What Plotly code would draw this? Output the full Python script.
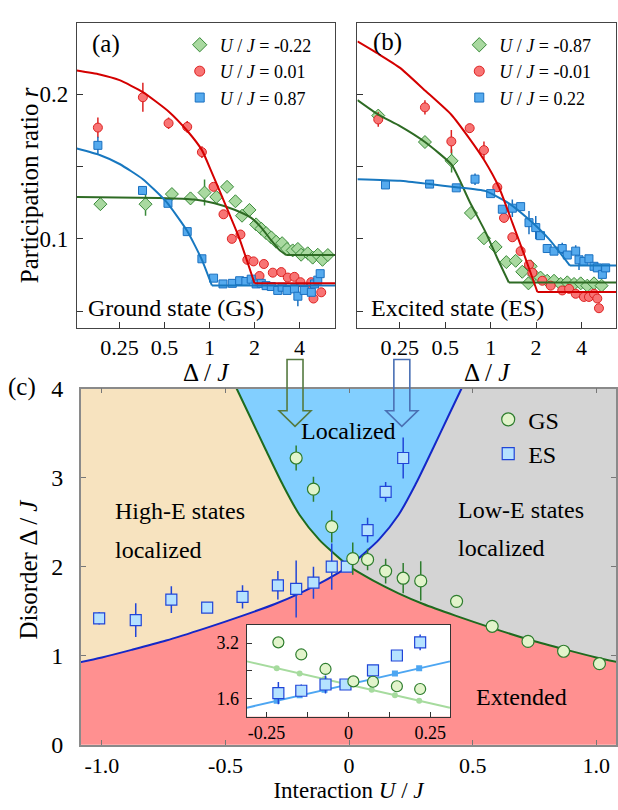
import numpy as np
import plotly.graph_objects as go

W, H = 618, 810
def px(x): return x / W
def py(y): return 1 - y / H

FONT = "Liberation Serif, Times New Roman, serif"

# ---------------- Panel (a): ground state ----------------
a_leg = ["<i>U</i> / <i>J</i> = -0.22", "<i>U</i> / <i>J</i> = 0.01", "<i>U</i> / <i>J</i> = 0.87"]

a_green_D = [0.186, 0.373, 0.56, 0.746, 0.926, 1.11, 1.31, 1.49, 1.65, 1.85, 2.05, 2.22, 2.39, 2.59, 2.79,
             3.06, 3.30, 3.60, 3.90, 4.10, 4.54, 4.90, 5.30, 5.70, 6.19]
a_green_r = [0.124, 0.124, 0.131, 0.128, 0.132, 0.129, 0.136, 0.126, 0.116, 0.120, 0.110, 0.107, 0.104, 0.101,
             0.098, 0.097, 0.093, 0.092, 0.093, 0.089, 0.090, 0.087, 0.089, 0.0855, 0.0888]
a_green_e = [0.002, 0.008, 0.003, 0.004, 0.009, 0.003, 0.003, 0.002, 0.002, 0.002, 0.002, 0.002, 0.002, 0.002,
             0.002, 0.002, 0.002, 0.002, 0.002, 0.002, 0.002, 0.002, 0.002, 0.002, 0.002]

a_red_D = [0.179, 0.358, 0.532, 0.709, 0.889, 1.064, 1.24, 1.41, 1.61, 1.79, 1.97, 2.16, 2.31, 2.65, 3.02,
           3.34, 3.70, 4.06, 4.54, 4.79, 4.96, 5.59]
a_red_r = [0.177, 0.198, 0.180, 0.1775, 0.160, 0.136, 0.117, 0.100, 0.103, 0.0855, 0.0844, 0.0743, 0.0826,
           0.0766, 0.077, 0.0732, 0.0737, 0.070, 0.0654, 0.070, 0.0587, 0.063]
a_red_e = [0.007, 0.010, 0.004, 0.004, 0.004, 0.002, 0.002, 0.002, 0.002, 0.002, 0.002, 0.002, 0.002,
           0.002, 0.002, 0.002, 0.002, 0.002, 0.002, 0.002, 0.002, 0.002]

a_blue_D = [0.179, 0.356, 0.527, 0.709, 0.889, 1.064, 1.23, 1.42, 1.59, 1.75, 1.9, 2.05, 2.22, 2.39, 2.59,
            2.86, 3.06, 3.30, 3.70, 3.90, 4.3, 4.8, 5.04, 5.3, 5.5]
a_blue_r = [0.1647, 0.1335, 0.1246, 0.105, 0.0862, 0.0728, 0.0688, 0.0692, 0.071, 0.0705, 0.0721, 0.0688,
            0.0692, 0.0676, 0.0670, 0.0643, 0.0665, 0.0643, 0.0654, 0.0603, 0.0643, 0.063, 0.0688, 0.0714, 0.0759]
a_blue_e = [0.006, 0.003, 0.002, 0.002, 0.002, 0.002, 0.002, 0.002, 0.002, 0.002, 0.002, 0.002, 0.002, 0.002,
            0.002, 0.002, 0.002, 0.002, 0.002, 0.007, 0.002, 0.002, 0.002, 0.002, 0.002]

# fit curves: curved part up to the kink, last point = end of the flat plateau
a_red_fit_D = [0.1295, 0.184, 0.25, 0.358, 0.532, 0.709, 0.889, 1.026, 1.293, 1.587, 2.0, 7.0]
a_red_fit_r = [0.2165, 0.2138, 0.2098, 0.2016, 0.1882, 0.1748, 0.1614, 0.1469, 0.1223, 0.100, 0.0692, 0.0692]
a_green_fit_D = [0.1295, 0.463, 0.794, 1.08, 1.47, 1.90, 2.22, 2.59, 2.94, 3.26, 7.0]
a_green_fit_r = [0.1290, 0.1283, 0.1272, 0.1246, 0.1201, 0.1145, 0.1078, 0.0989, 0.0922, 0.0888, 0.0888]
a_blue_fit_D = [0.1295, 0.184, 0.25, 0.358, 0.513, 0.709, 0.889, 1.037, 7.0]
a_blue_fit_r = [0.1625, 0.1580, 0.1518, 0.1413, 0.1257, 0.1054, 0.0855, 0.0677, 0.0677]

# ---------------- Panel (b): excited state ----------------
b_leg = ["<i>U</i> / <i>J</i> = -0.87", "<i>U</i> / <i>J</i> = -0.01", "<i>U</i> / <i>J</i> = 0.22"]

b_green_D = [0.180, 0.367, 0.551, 0.74, 0.903, 1.079, 1.27, 1.465, 1.62, 1.78, 1.84, 1.94, 2.14, 2.37, 2.63,
             2.91, 3.22, 3.57, 3.95, 4.37, 4.84, 5.43]
b_green_r = [0.1853, 0.167, 0.154, 0.1179, 0.1004, 0.0944, 0.0839, 0.0848, 0.0772, 0.0692, 0.081, 0.075,
             0.0732, 0.071, 0.071, 0.0688, 0.0699, 0.0688, 0.0692, 0.0676, 0.0692, 0.0676]
b_green_e = [0.002, 0.002, 0.008, 0.002, 0.002, 0.002, 0.002, 0.002, 0.002, 0.004, 0.002, 0.002, 0.002,
             0.002, 0.002, 0.002, 0.002, 0.002, 0.002, 0.002, 0.002, 0.002]

b_red_D = [0.180, 0.367, 0.549, 0.726, 0.903, 1.107, 1.226, 1.392, 1.58, 1.795, 1.89, 2.2, 2.5, 2.98, 3.31,
           3.66, 4.15, 4.48, 4.84, 5.09, 5.22]
b_red_r = [0.1826, 0.191, 0.1674, 0.1766, 0.1614, 0.1357, 0.1145, 0.1011, 0.0915, 0.0821, 0.0766, 0.071,
           0.0676, 0.0643, 0.0654, 0.062, 0.0598, 0.0598, 0.062, 0.0587, 0.052]
b_red_e = [0.005, 0.005, 0.008, 0.003, 0.006, 0.003, 0.002, 0.002, 0.002, 0.002, 0.002, 0.002, 0.002,
           0.002, 0.002, 0.002, 0.002, 0.002, 0.002, 0.002, 0.002]

b_blue_D = [0.201, 0.394, 0.592, 0.788, 1.0, 1.195, 1.392, 1.58, 1.795, 1.99, 2.14, 2.37, 2.63, 2.98, 3.22,
            3.66, 3.85, 4.15, 4.48, 4.84, 5.09, 5.5, 5.78]
b_blue_r = [0.1373, 0.1379, 0.1353, 0.1413, 0.1313, 0.1205, 0.1212, 0.1223, 0.1112, 0.1078, 0.1022, 0.0933,
            0.0915, 0.0933, 0.0888, 0.0915, 0.0855, 0.0844, 0.0862, 0.081, 0.0799, 0.0754, 0.0799]
b_blue_e = [0.002, 0.002, 0.002, 0.004, 0.002, 0.002, 0.006, 0.002, 0.008, 0.008, 0.002, 0.002, 0.002,
            0.004, 0.002, 0.004, 0.007, 0.002, 0.002, 0.002, 0.002, 0.002, 0.002]

b_red_fit_D = [0.131, 0.182, 0.251, 0.367, 0.549, 0.726, 0.903, 1.135, 1.392, 1.706, 2.04, 7.0]
b_red_fit_r = [0.2366, 0.2277, 0.2183, 0.2027, 0.1859, 0.1692, 0.1547, 0.1357, 0.1112, 0.0862, 0.0632, 0.0632]
b_green_fit_D = [0.131, 0.180, 0.251, 0.367, 0.551, 0.726, 0.927, 1.107, 1.32, 7.0]
b_green_fit_r = [0.196, 0.1859, 0.178, 0.167, 0.1513, 0.1257, 0.1045, 0.0866, 0.0698, 0.0698]
b_blue_fit_D = [0.131, 0.251, 0.394, 0.592, 0.927, 1.32, 1.795, 2.43, 3.35, 7.0]
b_blue_fit_r = [0.1413, 0.1402, 0.1379, 0.1357, 0.133, 0.1246, 0.1134, 0.100, 0.0815, 0.0815]

r_ticks = [0.05, 0.1, 0.15, 0.2]
r_ticktext = ["", "0.1", "", "0.2"]
D_ticks = [0.25, 0.5, 1, 2, 4]
D_ticktext = ["0.25", "0.5", "1", "2", "4"]

# ---------------- Panel (c): phase diagram ----------------
gs_U = [-0.214, -0.144, -0.070, 0.015, 0.075, 0.148, 0.219, 0.290, 0.435, 0.579, 0.724, 0.868, 1.013]
gs_D = [3.22, 2.87, 2.45, 2.09, 2.08, 1.95, 1.87, 1.84, 1.61, 1.33, 1.16, 1.05, 0.91]
gs_E = [0.14, 0.14, 0.18, 0.18, 0.12, 0.14, 0.17, 0.22, 0.03, 0.05, 0.05, 0.03, 0.05]

es_U = [-1.011, -0.863, -0.719, -0.574, -0.431, -0.288, -0.214, -0.144, -0.070, -0.009, 0.075, 0.148, 0.219]
es_D = [1.42, 1.40, 1.63, 1.54, 1.66, 1.79, 1.75, 1.82, 2.00, 2.00, 2.41, 2.84, 3.22]
es_E = [0.07, 0.19, 0.15, 0.03, 0.13, 0.16, 0.32, 0.18, 0.26, 0.03, 0.14, 0.11, 0.23]

# phase boundary branches (GS boundary: steep for U<0, shallow for U>0; ES boundary mirrored)
steep_U = np.array([0.0, 0.07, 0.12, 0.20, 0.27, 0.34, 0.40, 0.455])
steep_D = np.array([2.0, 2.17, 2.30, 2.58, 2.93, 3.33, 3.68, 4.0])
shallow_U = np.array([0.0, 0.10, 0.20, 0.30, 0.43, 0.58, 0.74, 0.88, 1.00, 1.09])
shallow_D = np.array([2.0, 1.84, 1.70, 1.58, 1.45, 1.31, 1.17, 1.065, 0.98, 0.925])

# inset linear guide lines
ins_line_U = [-0.31, 0.31]
ins_gs_line = [2.67, 1.33]
ins_es_line = [1.33, 2.67]
ins_dot_U = [-0.219, -0.149, -0.073, 0.071, 0.142, 0.216]
ins_gs_dot = [2.47, 2.32, 2.16, 1.85, 1.69, 1.53]
ins_es_dot = [1.53, 1.69, 1.85, 2.16, 2.32, 2.47]

U_RANGE = [-1.085, 1.08]
D_RANGE = [0, 4]

# ---------------- colours ----------------
C_GREEN_F, C_GREEN_L, C_GREEN_FIT = "#A9D9A0", "#3A8A3A", "#2E6B24"
C_RED_F, C_RED_L, C_RED_FIT = "#F87474", "#DD2222", "#D40000"
C_BLUE_F, C_BLUE_L, C_BLUE_FIT = "#55AAEE", "#1A70C0", "#1878C0"

fig = go.Figure()

def add_panel(xa, ya, data, fits, legend):
    for (D, r, e, sym, size, fc, lc, name) in data:
        fig.add_trace(go.Scatter(x=D, y=r, mode="markers", xaxis=xa, yaxis=ya, showlegend=False,
                                 marker=dict(symbol=sym, size=size, color=fc, line=dict(color=lc, width=1)),
                                 error_y=dict(type="data", array=e, width=0, thickness=1.5, color=lc)))
    for (D, r, c) in fits:
        # curved part (smooth) and flat plateau (straight) drawn separately to keep the kink sharp
        fig.add_trace(go.Scatter(x=D[:-1], y=r[:-1], mode="lines", xaxis=xa, yaxis=ya, showlegend=False,
                                 line=dict(color=c, width=2, shape="spline", smoothing=0.5)))
        fig.add_trace(go.Scatter(x=D[-2:], y=r[-2:], mode="lines", xaxis=xa, yaxis=ya, showlegend=False,
                                 line=dict(color=c, width=2)))
    for i, (D, r, e, sym, size, fc, lc, name) in enumerate(data):
        fig.add_trace(go.Scatter(x=[None], y=[None], mode="markers", xaxis=xa, yaxis=ya, name=name,
                                 legend=legend, legendgroup=legend + str(i),
                                 marker=dict(symbol=sym, size=size + 1, color=fc, line=dict(color=lc, width=1))))

add_panel("x", "y",
          [(a_green_D, a_green_r, a_green_e, "diamond", 10, C_GREEN_F, C_GREEN_L, a_leg[0]),
           (a_red_D, a_red_r, a_red_e, "circle", 9, C_RED_F, C_RED_L, a_leg[1]),
           (a_blue_D, a_blue_r, a_blue_e, "square", 8, C_BLUE_F, C_BLUE_L, a_leg[2])],
          [(a_green_fit_D, a_green_fit_r, C_GREEN_FIT), (a_blue_fit_D, a_blue_fit_r, C_BLUE_FIT),
           (a_red_fit_D, a_red_fit_r, C_RED_FIT)], "legend")
add_panel("x2", "y2",
          [(b_green_D, b_green_r, b_green_e, "diamond", 10, C_GREEN_F, C_GREEN_L, b_leg[0]),
           (b_red_D, b_red_r, b_red_e, "circle", 9, C_RED_F, C_RED_L, b_leg[1]),
           (b_blue_D, b_blue_r, b_blue_e, "square", 8, C_BLUE_F, C_BLUE_L, b_leg[2])],
          [(b_green_fit_D, b_green_fit_r, C_GREEN_FIT), (b_blue_fit_D, b_blue_fit_r, C_BLUE_FIT),
           (b_red_fit_D, b_red_fit_r, C_RED_FIT)], "legend2")

# ---- regions of panel (c), bounded by the phase-boundary branches
XL, XR, YT = U_RANGE[0] - 0.2, U_RANGE[1] + 0.2, D_RANGE[1] + 1
red_x = [XL] + list(-shallow_U[::-1]) + list(shallow_U[1:]) + [XR, XR, XL]
red_y = [shallow_D[-1]] + list(shallow_D[::-1]) + list(shallow_D[1:]) + [shallow_D[-1], -1, -1]
tan_x = [XL, -steep_U[-1]] + list(-steep_U[::-1]) + list(-shallow_U[1:]) + [XL]
tan_y = [YT, YT] + list(steep_D[::-1]) + list(shallow_D[1:]) + [shallow_D[-1]]
blu_x = list(-steep_U[::-1]) + list(steep_U[1:]) + [steep_U[-1], -steep_U[-1]]
blu_y = list(steep_D[::-1]) + list(steep_D[1:]) + [YT, YT]
gry_x = list(steep_U) + [steep_U[-1], XR, XR] + list(shallow_U[:0:-1])
gry_y = list(steep_D) + [YT, YT, shallow_D[-1]] + list(shallow_D[:0:-1])
for xs, ys, col in [(red_x, red_y, "#FF9090"), (tan_x, tan_y, "#F7E3BF"),
                    (blu_x, blu_y, "#82CFFF"), (gry_x, gry_y, "#D4D4D4")]:
    fig.add_trace(go.Scatter(x=xs, y=ys, mode="lines", fill="toself", fillcolor=col, xaxis="x3", yaxis="y3",
                             line=dict(width=0, color=col), showlegend=False, hoverinfo="skip"))

GB, BB = "#1E6B1E", "#1428C8"
for xs, ys, col in [(-steep_U, steep_D, GB), (shallow_U, shallow_D, GB),
                    (steep_U, steep_D, BB), (-shallow_U, shallow_D, BB)]:
    fig.add_trace(go.Scatter(x=xs, y=ys, mode="lines", xaxis="x3", yaxis="y3", showlegend=False,
                             line=dict(color=col, width=2, shape="spline", smoothing=0.8)))

GS_F, GS_L, ES_F, ES_L = "#E2F4CB", "#2E7D2E", "#B5E2FF", "#2045D8"
fig.add_trace(go.Scatter(x=es_U, y=es_D, mode="markers", xaxis="x3", yaxis="y3", showlegend=False,
                         marker=dict(symbol="square", size=11, color=ES_F, line=dict(color=ES_L, width=1.2)),
                         error_y=dict(type="data", array=es_E, width=0, thickness=1.5, color=ES_L)))
fig.add_trace(go.Scatter(x=gs_U, y=gs_D, mode="markers", xaxis="x3", yaxis="y3", showlegend=False,
                         marker=dict(symbol="circle", size=12, color=GS_F, line=dict(color=GS_L, width=1.2)),
                         error_y=dict(type="data", array=gs_E, width=0, thickness=1.5, color=GS_L)))
fig.add_trace(go.Scatter(x=[None], y=[None], mode="markers", xaxis="x3", yaxis="y3", name="GS",
                         legend="legend3", legendgroup="c0",
                         marker=dict(symbol="circle", size=13, color=GS_F, line=dict(color=GS_L, width=1.2))))
fig.add_trace(go.Scatter(x=[None], y=[None], mode="markers", xaxis="x3", yaxis="y3", name="ES",
                         legend="legend3", legendgroup="c1",
                         marker=dict(symbol="square", size=12, color=ES_F, line=dict(color=ES_L, width=1.2))))

# ---- inset
sel = lambda U, V: [v for u, v in zip(U, V) if abs(u) < 0.25]
fig.add_trace(go.Scatter(x=ins_line_U, y=ins_gs_line, mode="lines", xaxis="x4", yaxis="y4", showlegend=False,
                         line=dict(color="#A6DB9E", width=2)))
fig.add_trace(go.Scatter(x=ins_line_U, y=ins_es_line, mode="lines", xaxis="x4", yaxis="y4", showlegend=False,
                         line=dict(color="#4DA6F2", width=2)))
fig.add_trace(go.Scatter(x=ins_dot_U, y=ins_gs_dot, mode="markers", xaxis="x4", yaxis="y4", showlegend=False,
                         marker=dict(color="#A6DB9E", size=6)))
fig.add_trace(go.Scatter(x=ins_dot_U, y=ins_es_dot, mode="markers", xaxis="x4", yaxis="y4", showlegend=False,
                         marker=dict(color="#4DA6F2", size=6, symbol="square")))
fig.add_trace(go.Scatter(x=sel(es_U, es_U), y=sel(es_U, es_D), mode="markers", xaxis="x4", yaxis="y4",
                         showlegend=False,
                         marker=dict(symbol="square", size=11, color=ES_F, line=dict(color=ES_L, width=1.2)),
                         error_y=dict(type="data", array=sel(es_U, es_E), width=0, thickness=1.5, color=ES_L)))
fig.add_trace(go.Scatter(x=sel(gs_U, gs_U), y=sel(gs_U, gs_D), mode="markers", xaxis="x4", yaxis="y4",
                         showlegend=False,
                         marker=dict(symbol="circle", size=11, color=GS_F, line=dict(color=GS_L, width=1.2))))

# ---------------- axes ----------------
common_ab_x = dict(type="log", tickvals=D_ticks, ticktext=D_ticktext, ticks="inside", ticklen=6,
                   tickcolor="#333", showline=True, linecolor="#444", linewidth=1, mirror=True,
                   showgrid=False, zeroline=False, tickfont=dict(family=FONT, size=22), ticklabelstandoff=0)
common_ab_y = dict(tickvals=r_ticks, ticktext=r_ticktext, ticks="inside", ticklen=6, tickcolor="#333",
                   showline=True, linecolor="#444", linewidth=1, mirror=True, showgrid=False, zeroline=False,
                   range=[0.0386, 0.2496], tickfont=dict(family=FONT, size=23), ticklabelstandoff=3)

fig.update_layout(
    width=W, height=H, margin=dict(l=0, r=0, t=0, b=0),
    paper_bgcolor="white", plot_bgcolor="white",
    font=dict(family=FONT, size=20, color="black"),
    xaxis=dict(domain=[px(77), px(336)], range=[np.log10(0.1295), np.log10(6.96)], anchor="y", **common_ab_x),
    yaxis=dict(domain=[py(325), py(10)], anchor="x", **common_ab_y),
    xaxis2=dict(domain=[px(358), px(617)], range=[np.log10(0.131), np.log10(6.77)], anchor="y2", **common_ab_x),
    yaxis2=dict(domain=[py(325), py(10)], anchor="x2", showticklabels=False, **common_ab_y),
    xaxis3=dict(domain=[px(81), px(617)], range=U_RANGE, anchor="y3", tickvals=[-1, -0.5, 0, 0.5, 1],
                ticktext=["-1.0", "-0.5", "0", "0.5", "1.0"], ticks="inside", ticklen=5, tickcolor="#777",
                showline=True, linecolor="#8a8a8a", linewidth=1.5, mirror="ticks", showgrid=False,
                zeroline=False, tickfont=dict(family=FONT, size=22), ticklabelstandoff=0,
                title=dict(text="Interaction <i>U</i> / <i>J</i>", standoff=0,
                           font=dict(family=FONT, size=23, color="black"))),
    yaxis3=dict(domain=[py(756), py(388)], range=D_RANGE, anchor="x3", tickvals=[0, 1, 2, 3, 4],
                ticks="inside", ticklen=5, tickcolor="#777", showline=True, linecolor="#8a8a8a", linewidth=1.5,
                mirror="ticks", showgrid=False, zeroline=False, tickfont=dict(family=FONT, size=24),
                ticklabelstandoff=11),
    xaxis4=dict(domain=[px(247), px(451)], range=[-0.311, 0.311], anchor="y4",
                tickvals=[-0.25, -0.125, 0, 0.125, 0.25], ticktext=["-0.25", "", "0", "", "0.25"],
                ticks="inside", ticklen=5, tickcolor="#333", showline=True, linecolor="#333", linewidth=1,
                mirror=True, showgrid=False, zeroline=False, tickfont=dict(family=FONT, size=18),
                ticklabelstandoff=0),
    yaxis4=dict(domain=[py(727), py(632)], range=[1.07, 3.73], anchor="x4", tickvals=[1.6, 2.4, 3.2],
                ticktext=["1.6", "", "3.2"], ticks="inside", ticklen=5, tickcolor="#333", showline=True,
                linecolor="#333", linewidth=1, mirror=True, showgrid=False, zeroline=False,
                tickfont=dict(family=FONT, size=18), ticklabelstandoff=3),
    legend=dict(x=px(180), y=py(14), xanchor="left", yanchor="top", bgcolor="rgba(0,0,0,0)",
                font=dict(family=FONT, size=18), tracegroupgap=0, itemclick=False),
    legend2=dict(x=px(460), y=py(14), xanchor="left", yanchor="top", bgcolor="rgba(0,0,0,0)",
                 font=dict(family=FONT, size=18), tracegroupgap=0, itemclick=False),
    legend3=dict(x=px(489), y=py(397), xanchor="left", yanchor="top", bgcolor="rgba(0,0,0,0)",
                 font=dict(family=FONT, size=24), tracegroupgap=0, itemclick=False),
)

# ---------------- text ----------------
def ann(text, x, y, size=24, xanchor="center", angle=0):
    fig.add_annotation(text=text, x=px(x), y=py(y), xref="paper", yref="paper", showarrow=False,
                       xanchor=xanchor, yanchor="middle", textangle=angle,
                       font=dict(family=FONT, size=size, color="black"))

ann("(a)", 106, 32, 25)
ann("(b)", 388, 30, 25)
ann("(c)", 22, 386, 25)
ann("Ground state (GS)", 86, 305, 24, "left")
ann("Excited state (ES)", 370, 305, 24, "left")
ann("Δ / <i>J</i>", 207, 371, 25)
ann("Δ / <i>J</i>", 488, 371, 25)
ann("Participation ratio <i>r</i>", 29, 178, 25, angle=-90)
ann("Disorder Δ / <i>J</i>", 29, 574, 25, angle=-90)
ann("Localized", 349, 432, 24)
ann("High-E states", 113, 515, 24, "left")
ann("localized", 113, 555, 24, "left")
ann("Low-E states", 457, 513, 24, "left")
ann("localized", 457, 553, 24, "left")
ann("Extended", 522, 707, 24)

# ---------------- hollow arrows ----------------
def arrow_path(xc, sw, hw, y0, yb, yt):
    pts = [(xc - sw, y0), (xc + sw, y0), (xc + sw, yb), (xc + hw, yb), (xc, yt), (xc - hw, yb), (xc - sw, yb)]
    return "M " + " L ".join(f"{px(a):.5f},{py(b):.5f}" for a, b in pts) + " Z"

fig.add_shape(type="path", path=arrow_path(295.5, 8, 16, 358, 411, 427), xref="paper", yref="paper",
              line=dict(color="#557A40", width=1.6), fillcolor="rgba(0,0,0,0)", layer="above")
fig.add_shape(type="path", path=arrow_path(402.5, 8, 16, 358, 411, 427), xref="paper", yref="paper",
              line=dict(color="#4A70B4", width=1.6), fillcolor="rgba(0,0,0,0)", layer="above")

fig.write_html("out.html")
